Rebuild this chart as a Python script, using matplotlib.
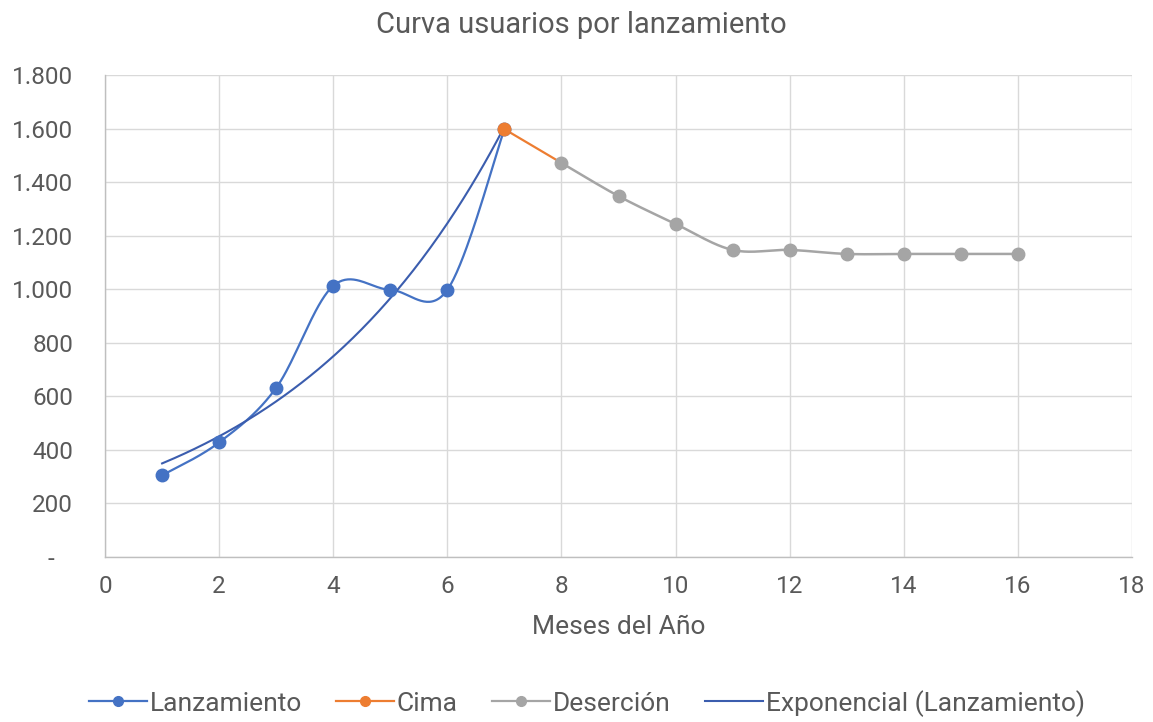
import numpy as np
import matplotlib
matplotlib.use("Agg")
import matplotlib.pyplot as plt
from matplotlib.ticker import FuncFormatter, MultipleLocator
from matplotlib.lines import Line2D

# Usuarios por mes
lanz_x = [1, 2, 3, 4, 5, 6, 7]
lanz_y = [305, 428, 632, 1013, 998, 998, 1598]
cima_x = [7, 8]
cima_y = [1598, 1472]
des_x = [8, 9, 10, 11, 12, 13, 14, 15, 16]
des_y = [1472, 1348, 1244, 1147, 1147, 1132, 1132, 1132, 1132]

title = "Curva usuarios por lanzamiento"
xlabel = "Meses del Año"
series_names = ["Lanzamiento", "Cima", "Deserción", "Exponencial (Lanzamiento)"]

BLUE = "#4472C4"
ORANGE = "#ED7D31"
GRAY = "#A5A5A5"
TREND = "#3B5DAE"
TEXT = "#595959"

plt.rcParams["font.family"] = ["Roboto", "DejaVu Sans"]


def smooth(xs, ys, n=40):
    """Cubic Bezier smoothing through every point (Catmull-Rom style)."""
    xs = np.asarray(xs, float)
    ys = np.asarray(ys, float)
    pts = np.column_stack([xs, ys])
    out = [pts[0]]
    for i in range(len(pts) - 1):
        p0 = pts[i - 1] if i > 0 else pts[i]
        p1, p2 = pts[i], pts[i + 1]
        p3 = pts[i + 2] if i + 2 < len(pts) else pts[i + 1]
        c1 = p1 + (p2 - p0) / 6.0
        c2 = p2 - (p3 - p1) / 6.0
        t = np.linspace(0, 1, n)[1:, None]
        seg = ((1 - t) ** 3) * p1 + 3 * ((1 - t) ** 2) * t * c1 + 3 * (1 - t) * t ** 2 * c2 + t ** 3 * p2
        out.extend(seg)
    out = np.array(out)
    return out[:, 0], out[:, 1]


fig = plt.figure(figsize=(11.53, 7.22), dpi=100)
ax = fig.add_axes([0.0911, 0.2285, 0.8907, 0.6675])

# Exponential trend fitted on log values
b, ln_a = np.polyfit(lanz_x, np.log(lanz_y), 1)
tx = np.linspace(min(lanz_x), max(lanz_x), 200)
ty = np.exp(ln_a) * np.exp(b * tx)

sx, sy = smooth(lanz_x, lanz_y)
ax.plot(sx, sy, color=BLUE, lw=1.6, zorder=3)
ax.plot(lanz_x, lanz_y, "o", color=BLUE, ms=9, zorder=4)

ax.plot(cima_x, cima_y, color=ORANGE, lw=1.6, zorder=3)
ax.plot(cima_x[:1], cima_y[:1], "o", color=ORANGE, ms=9, zorder=5)

dx, dy = smooth(des_x, des_y)
ax.plot(dx, dy, color=GRAY, lw=1.8, zorder=3)
ax.plot(des_x, des_y, "o", color=GRAY, ms=9, zorder=4)

ax.plot(tx, ty, color=TREND, lw=1.5, zorder=3)

ax.set_xlim(0, 18)
ax.set_ylim(0, 1800)
ax.xaxis.set_major_locator(MultipleLocator(2))
ax.yaxis.set_major_locator(MultipleLocator(200))


def fmt_y(v, pos):
    if abs(v) < 1e-9:
        return "-   "
    return f"{int(round(v)):,}".replace(",", ".")


ax.yaxis.set_major_formatter(FuncFormatter(fmt_y))
ax.grid(True, color="#D9D9D9", lw=1.0, zorder=0)
ax.set_axisbelow(True)
for side in ["top", "right"]:
    ax.spines[side].set_visible(False)
for side in ["left", "bottom"]:
    ax.spines[side].set_color("#BFBFBF")
    ax.spines[side].set_linewidth(1.0)
ax.tick_params(length=0, labelsize=17.5, labelcolor=TEXT)
ax.tick_params(axis="y", pad=23)
ax.tick_params(axis="x", pad=13)

ax.set_xlabel(xlabel, fontsize=19, color=TEXT, labelpad=12)
fig.text(0.504, 0.965, title, ha="center", va="center", fontsize=21, color=TEXT)

handles = [
    Line2D([], [], color=BLUE, marker="o", ms=7, lw=1.6),
    Line2D([], [], color=ORANGE, marker="o", ms=7, lw=1.6),
    Line2D([], [], color=GRAY, marker="o", ms=7, lw=1.6),
    Line2D([], [], color=TREND, lw=1.5),
]
fig.legend(handles, series_names, loc="center", bbox_to_anchor=(0.509, 0.026),
           ncol=4, frameon=False, fontsize=19, labelcolor=TEXT,
           handlelength=2.2, handletextpad=0.1, columnspacing=1.3)

fig.savefig("out.png", dpi=100, facecolor="white")
